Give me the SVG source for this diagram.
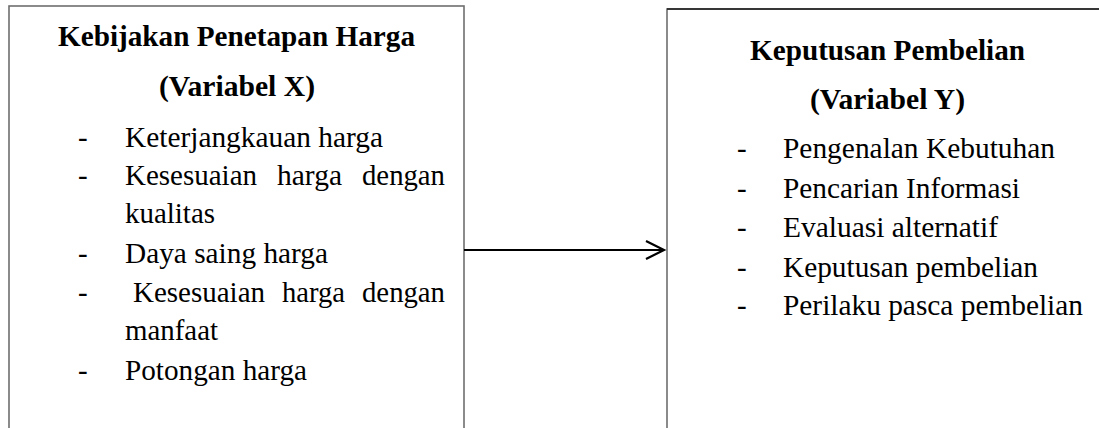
<svg xmlns="http://www.w3.org/2000/svg" width="1099" height="428" viewBox="0 0 1099 428">
<style>
.box{fill:#fff;stroke:#6e6e6e;stroke-width:1.6}
.t{font-family:"Liberation Serif","Times New Roman",serif;font-size:29px;fill:#000}
.b{font-weight:bold}
.conn{stroke:#000;stroke-width:2.2;fill:none}
</style>
<rect width="1099" height="428" fill="#fff"/>
<g id="nodeX">
<rect class="box" x="9" y="6" width="455" height="440"/>
<text class="t b" x="58" y="46" textLength="357" lengthAdjust="spacingAndGlyphs">Kebijakan Penetapan Harga</text>
<text class="t b" x="159" y="96" textLength="156" lengthAdjust="spacingAndGlyphs">(Variabel X)</text>
<text class="t" x="78" y="147">-</text>
<text class="t" x="125" y="147" textLength="258" lengthAdjust="spacingAndGlyphs">Keterjangkauan harga</text>
<text class="t" x="78" y="185">-</text>
<text class="t" x="125" y="185" textLength="132" lengthAdjust="spacingAndGlyphs">Kesesuaian</text>
<text class="t" x="277" y="185" textLength="65" lengthAdjust="spacingAndGlyphs">harga</text>
<text class="t" x="362" y="185" textLength="83" lengthAdjust="spacingAndGlyphs">dengan</text>
<text class="t" x="125" y="223" textLength="90" lengthAdjust="spacingAndGlyphs">kualitas</text>
<text class="t" x="78" y="263">-</text>
<text class="t" x="125" y="263" textLength="203" lengthAdjust="spacingAndGlyphs">Daya saing harga</text>
<text class="t" x="78" y="302">-</text>
<text class="t" x="133" y="302" textLength="132" lengthAdjust="spacingAndGlyphs">Kesesuaian</text>
<text class="t" x="282" y="302" textLength="63" lengthAdjust="spacingAndGlyphs">harga</text>
<text class="t" x="362" y="302" textLength="83" lengthAdjust="spacingAndGlyphs">dengan</text>
<text class="t" x="125" y="340" textLength="93" lengthAdjust="spacingAndGlyphs">manfaat</text>
<text class="t" x="78" y="380">-</text>
<text class="t" x="125" y="380" textLength="182" lengthAdjust="spacingAndGlyphs">Potongan harga</text>
</g>
<g id="nodeY">
<rect class="box" x="667" y="9" width="460" height="440"/>
<line x1="667" y1="9" x2="1099" y2="9" stroke="#1a1a1a" stroke-width="1.6"/>
<text class="t b" x="750" y="60" textLength="275" lengthAdjust="spacingAndGlyphs">Keputusan Pembelian</text>
<text class="t b" x="810" y="109" textLength="155" lengthAdjust="spacingAndGlyphs">(Variabel Y)</text>
<text class="t" x="737" y="158">-</text>
<text class="t" x="783" y="158" textLength="272" lengthAdjust="spacingAndGlyphs">Pengenalan Kebutuhan</text>
<text class="t" x="737" y="198">-</text>
<text class="t" x="783" y="198" textLength="237" lengthAdjust="spacingAndGlyphs">Pencarian Informasi</text>
<text class="t" x="737" y="237">-</text>
<text class="t" x="783" y="237" textLength="215" lengthAdjust="spacingAndGlyphs">Evaluasi alternatif</text>
<text class="t" x="737" y="277">-</text>
<text class="t" x="783" y="277" textLength="255" lengthAdjust="spacingAndGlyphs">Keputusan pembelian</text>
<text class="t" x="737" y="315">-</text>
<text class="t" x="783" y="315" textLength="300" lengthAdjust="spacingAndGlyphs">Perilaku pasca pembelian</text>
</g>
<g id="connectors">
<line class="conn" x1="464" y1="250" x2="664" y2="250"/>
<polyline class="conn" points="646,241 664,250 646,259"/>
</g>
</svg>
